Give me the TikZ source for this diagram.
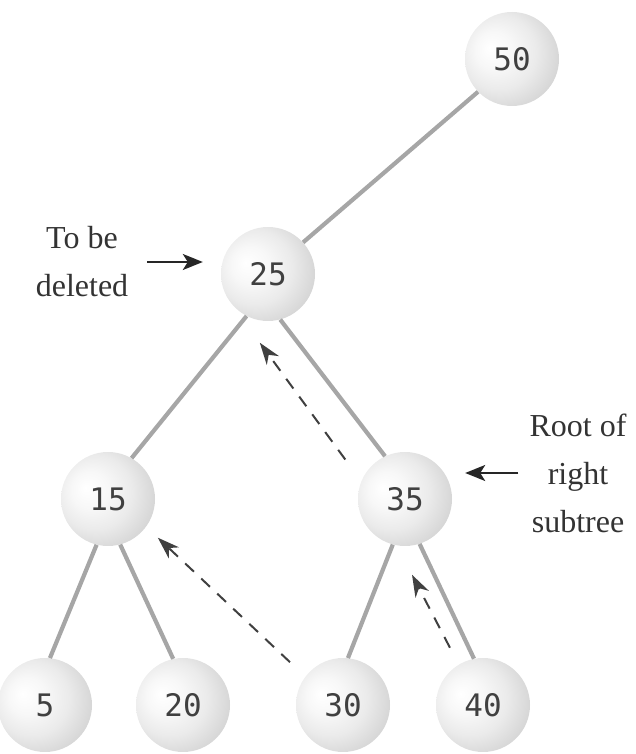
\documentclass[tikz,border=0pt]{standalone}
\usepackage{fontspec}
\setmainfont{Liberation Serif}
\newfontfamily\ballfont{DejaVu Sans Mono}
\usetikzlibrary{arrows.meta}
\usetikzlibrary{positioning}
\pgfdeclareradialshading{sphere}{\pgfpoint{-12bp}{6bp}}{color(0bp)=(white); color(10bp)=(white!97!black); color(20bp)=(white!92!black); color(30bp)=(white!84!black); color(38bp)=(white!76!black); color(50bp)=(white!74!black)}
\tikzstyle{ball} = [circle, minimum size=94pt, inner sep=0pt, shading=sphere, font=\ballfont\fontsize{31}{31}\selectfont, text=black!75]
\tikzstyle{edge} = [line width=4.2pt, draw=black!35]
\tikzstyle{back} = [-{Stealth[length=22pt, width=15pt, inset=7pt]}, dash pattern=on 12pt off 10pt, line width=2pt, draw=black!75]
\tikzstyle{note} = [align=center, inner sep=0pt, font=\fontsize{32}{48}\selectfont, text=black!80]
\tikzstyle{point} = [-{Stealth[length=20pt, width=16pt, inset=5pt]}, line width=2.2pt, draw=black!85]

\begin{document}
\begin{tikzpicture}[on grid]
   \useasboundingbox (0,0) rectangle (635pt,754pt);
   % Place nodes
   \node [ball] (n50) at (512pt,695pt) {50};
   \node [ball, below left = 215pt and 244pt of n50] (n25) {25};
   \node [ball, below left = 225pt and 160pt of n25] (n15) {15};
   \node [ball, below right = 225pt and 137pt of n25] (n35) {35};
   \node [ball, below left = 206pt and 63pt of n15] (n5) {5};
   \node [ball, below right = 206pt and 75pt of n15] (n20) {20};
   \node [ball, below left = 206pt and 62pt of n35] (n30) {30};
   \node [ball, below right = 206pt and 78pt of n35] (n40) {40};
   \node [note, above left = 12pt and 186pt of n25] (del) {To be\\deleted};
   \node [note, above right = 26pt and 173pt of n35] (rst) {Root of\\right\\subtree};

   % Tree edges
   \draw [edge] (n50.224) -- (n25.42);
   \draw [edge] (n25.243) -- (n15.60);
   \draw [edge] (n25.285) -- (n35.115);
   \draw [edge] (n15.256) -- (n5.84);
   \draw [edge] (n15.285) -- (n20.102);
   \draw [edge] (n35.255) -- (n30.84);
   \draw [edge] (n35.288) -- (n40.101);

   % Moving up
   \draw [back, shorten <=27pt, shorten >=50pt] (n35.158) -- (n25.217);
   \draw [back, shorten <=21pt, shorten >=16pt] (n30.143) -- (n15.324);
   \draw [back, shorten <=19pt, shorten >=33pt] (n40.121) -- (n35.260);

   % Labels
   \draw [point, shorten <=19pt, shorten >=18pt] (del.east) -- (del.east -| n25.west);
   \draw [point, shorten <=11pt, shorten >=13pt] (rst.west) -- (rst.west -| n35.east);
\end{tikzpicture}
\end{document}
